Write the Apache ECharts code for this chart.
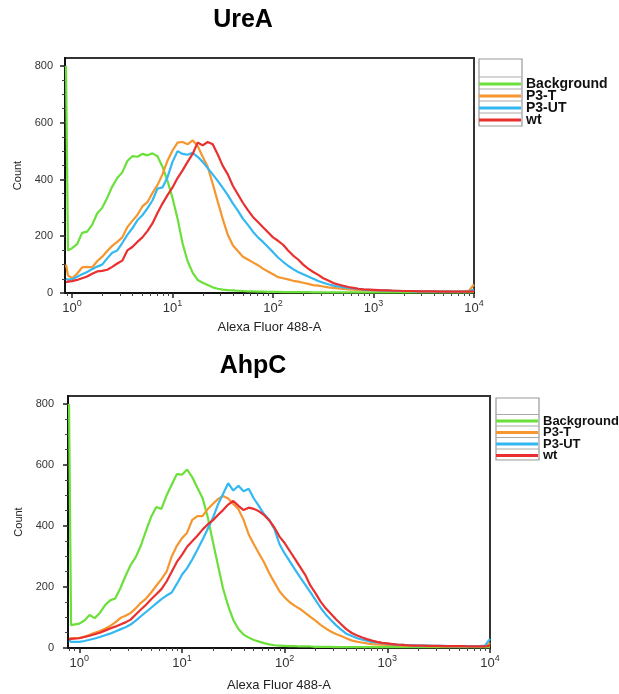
<!DOCTYPE html>
<html>
<head>
<meta charset="utf-8">
<script src="https://cdn.jsdelivr.net/npm/echarts@6/dist/echarts.min.js"></script>
<style>
html,body{margin:0;padding:0;background:#fff;}
#chart{width:619px;height:694px;}
</style>
</head>
<body>
<div id="chart"></div>
<script>
// ---- data (x = log10 of Alexa Fluor 488-A intensity, y = Count) ----
const GRID = [0,0.05,0.1,0.15,0.2,0.25,0.3,0.35,0.4,0.45,
  0.5,0.55,0.6,0.65,0.7,0.75,0.8,0.85,0.9,0.95,
  1,1.05,1.1,1.15,1.2,1.25,1.3,1.35,1.4,1.45,
  1.5,1.55,1.6,1.65,1.7,1.75,1.8,1.85,1.9,1.95,
  2,2.05,2.1,2.15,2.2,2.25,2.3,2.35,2.4,2.45,
  2.5,2.55,2.6,2.65,2.7,2.75,2.8,2.85,2.9,2.95,
  3,3.05,3.1,3.15,3.2,3.25,3.3,3.35,3.4,3.45,
  3.5,3.55,3.6,3.65,3.7,3.75,3.8,3.85,3.9,3.95,
  4];
const ureaLowBins = [-0.06, -0.04];
const ahpcLowBins = [-0.10, -0.08];

const seriesNames = ['Background', 'P3-T', 'P3-UT', 'wt'];
const seriesColors = ['#6be03a', '#f5962e', '#33b8f2', '#ea2f2f'];

const ureaBackground = [800,150,
158,172,212,216,240,280,300,335,375,405,
425,465,482,480,490,485,492,482,445,395,
335,262,175,112,72,46,36,28,20,15,
12,10,9,8,7,6,6,5,5,4,
4,4,3,3,3,3,3,3,2,2,
2,2,2,2,2,2,2,2,2,2,
2,2,2,2,2,2,2,2,2,2,
2,2,2,2,2,2,2,2,2,2,
3];
const ureaP3T = [100,62,
52,68,90,92,90,112,128,148,166,180,
196,232,254,275,305,320,352,380,418,466,
502,530,532,524,538,518,480,445,385,322,
260,205,168,148,128,118,108,98,86,76,
66,56,52,48,43,40,36,32,28,26,
23,20,18,16,14,13,12,11,10,10,
9,8,8,8,7,7,7,7,6,6,
6,6,6,6,6,6,5,5,5,8,
30];
const ureaP3UT = [50,47,
48,57,66,74,84,93,100,122,142,150,
176,205,228,256,274,298,326,368,372,408,
462,500,490,487,494,480,462,440,418,395,
370,345,316,290,262,240,216,196,180,162,
144,125,110,96,84,74,66,58,50,42,
36,31,26,23,20,18,16,14,12,11,
10,9,9,8,8,7,7,7,6,6,
6,6,5,5,5,5,5,5,5,6,
12];
const ureaWt = [38,40,
42,46,52,58,68,76,78,82,92,104,
114,150,162,180,196,218,245,282,315,345,
372,405,432,462,490,530,520,532,524,488,
448,418,378,348,318,292,268,250,232,214,
196,184,170,150,132,118,100,86,74,64,
52,44,35,30,25,21,18,15,13,12,
11,10,9,9,8,8,7,7,7,6,
6,6,6,5,5,5,5,5,5,5,
6];

const ahpcBackground = [800,75,
80,90,108,98,115,140,156,162,196,236,
272,298,336,385,430,462,456,500,535,570,
568,585,560,525,492,430,350,272,195,138,
92,62,44,34,26,21,16,12,9,8,
7,6,6,5,5,5,4,4,4,4,
3,3,3,3,3,3,3,3,3,3,
3,3,3,3,3,3,3,3,3,3,
3,3,3,3,3,3,3,3,3,3,
3];
const ahpcP3T = [32,32,
33,37,43,50,56,63,72,84,98,106,
115,130,148,162,182,204,226,250,300,335,
360,378,420,432,432,455,472,488,498,490,
472,455,420,372,340,310,280,245,215,186,
166,150,138,128,115,102,90,76,64,54,
46,39,32,25,21,18,15,13,12,11,
10,10,9,8,8,7,7,7,6,6,
6,6,5,5,5,5,5,5,5,6,
16];
const ahpcP3UT = [25,20,
20,23,27,31,36,42,47,54,61,68,
77,90,104,118,132,146,160,172,182,210,
240,262,290,322,355,390,425,470,505,540,
516,532,514,522,490,465,438,420,390,340,
310,284,258,232,208,183,158,132,110,92,
75,60,47,40,33,28,24,20,18,16,
14,12,10,10,9,9,8,8,8,7,
7,7,6,6,6,6,6,6,6,8,
30];
const ahpcWt = [28,30,
32,36,40,45,50,57,64,70,77,84,
93,110,126,142,160,176,193,218,250,282,
305,332,350,368,388,405,418,436,452,470,
482,466,452,460,456,448,436,418,395,365,
344,318,292,266,240,205,180,152,130,112,
94,78,62,50,42,35,29,24,20,17,
15,13,11,10,9,8,8,8,7,7,
7,6,6,6,6,6,5,5,5,5,
8];

const xMajorTicks = [0, 1, 2, 3, 4];
const yMajorTicks = [0, 200, 400, 600, 800];
const titles = ['UreA', 'AhpC'];
const xAxisName = 'Alexa Fluor 488-A';
const yAxisName = 'Count';

// ---- build ----
const FONT = 'Liberation Sans, Arial, Helvetica, sans-serif';
const ureaBins = ureaLowBins.concat(GRID);
const ahpcBins = ahpcLowBins.concat(GRID);

function minorX(min) {
  const out = [];
  for (let d = -1; d < 4; d++) for (let m = 2; m <= 9; m++) {
    const v = d + Math.log10(m);
    if (v > min && v < 4) out.push(v);
  }
  return out;
}
const yMinorTicks = [];
for (let v = 50; v <= 800; v += 50) yMinorTicks.push(v);

function pairs(bins, vals) { return bins.map((b, i) => [b, vals[i]]); }

const grids = [
  {left: 65, top: 58, width: 409, height: 235, min: -0.07, ymax: 828, nameGapX: 28, nameGapY: 36, labelMargin: 12},
  {left: 68, top: 396, width: 422, height: 252, min: -0.11, ymax: 826, nameGapX: 31, nameGapY: 38, labelMargin: 14}
];

const xAxes = [], yAxes = [];
grids.forEach((g, gi) => {
  xAxes.push({
    gridIndex: gi, type: 'value', min: g.min, max: 4, position: 'bottom',
    axisLine: {show: true, onZero: false, lineStyle: {color: '#111', width: 2}},
    axisTick: {show: true, customValues: xMajorTicks, length: 5, lineStyle: {color: '#222', width: 1.5}},
    axisLabel: {
      customValues: xMajorTicks, margin: 6,
      formatter: v => '{b|10}{s|' + Math.round(v) + '}',
      rich: {
        b: {fontSize: 13, color: '#333', fontFamily: FONT, verticalAlign: 'bottom'},
        s: {fontSize: 9, color: '#333', fontFamily: FONT, verticalAlign: 'bottom', padding: [0, 0, 7, 0]}
      }
    },
    splitLine: {show: false},
    name: xAxisName, nameLocation: 'middle', nameGap: g.nameGapX,
    nameTextStyle: {fontSize: 13, color: '#222', fontFamily: FONT}
  });
  xAxes.push({
    gridIndex: gi, type: 'value', min: g.min, max: 4, position: 'bottom',
    axisLine: {show: false, onZero: false},
    axisTick: {show: true, customValues: minorX(g.min), length: 3, lineStyle: {color: '#444', width: 1}},
    axisLabel: {show: false}, splitLine: {show: false}
  });
  yAxes.push({
    gridIndex: gi, type: 'value', min: 0, max: g.ymax, position: 'left',
    axisLine: {show: true, onZero: false, lineStyle: {color: '#111', width: 2}},
    axisTick: {show: true, customValues: yMajorTicks, length: 5, lineStyle: {color: '#222', width: 1.5}},
    axisLabel: {customValues: yMajorTicks, fontSize: 11, color: '#333', fontFamily: FONT, margin: g.labelMargin},
    splitLine: {show: false},
    name: yAxisName, nameLocation: 'middle', nameGap: g.nameGapY, nameRotate: 90,
    nameTextStyle: {fontSize: 11, color: '#222', fontFamily: FONT}
  });
  yAxes.push({
    gridIndex: gi, type: 'value', min: 0, max: g.ymax, position: 'left',
    axisLine: {show: false, onZero: false},
    axisTick: {show: true, customValues: yMinorTicks, length: 3, lineStyle: {color: '#444', width: 1}},
    axisLabel: {show: false}, splitLine: {show: false}
  });
});

const ureaSets = [ureaBackground, ureaP3T, ureaP3UT, ureaWt];
const ahpcSets = [ahpcBackground, ahpcP3T, ahpcP3UT, ahpcWt];
const series = [];
[[ureaSets, ureaBins, 0], [ahpcSets, ahpcBins, 1]].forEach(([sets, bins, gi]) => {
  sets.forEach((vals, si) => {
    series.push({
      type: 'line', name: seriesNames[si], xAxisIndex: gi * 2, yAxisIndex: gi * 2,
      data: pairs(bins, vals), symbol: 'none', showSymbol: false, smooth: false,
      clip: true, animation: false,
      itemStyle: {color: seriesColors[si]},
      lineStyle: {color: seriesColors[si], width: 2.2}
    });
  });
});

function legendBox(x, y, w, h, rows) {
  const els = [{type: 'rect', shape: {x: x, y: y, width: w, height: h}, style: {fill: 'none', stroke: '#999', lineWidth: 1.2}}];
  rows.forEach(ry => els.push({type: 'line', shape: {x1: x, y1: ry, x2: x + w, y2: ry}, style: {stroke: '#aaa', lineWidth: 1}}));
  return els;
}

const option = {
  backgroundColor: '#fff',
  animation: false,
  grid: grids.map(g => ({left: g.left, top: g.top, width: g.width, height: g.height, show: true, borderColor: '#333', borderWidth: 2, backgroundColor: 'transparent'})),
  xAxis: xAxes,
  yAxis: yAxes,
  legend: [
    {data: seriesNames, orient: 'vertical', left: 479, top: 77, padding: 0, icon: 'rect', itemWidth: 42, itemHeight: 3, itemGap: -2, selectedMode: false,
     textStyle: {fontSize: 14, fontWeight: 'bold', color: '#111', fontFamily: FONT}},
    {data: seriesNames, orient: 'vertical', left: 496, top: 414.5, padding: 0, icon: 'rect', itemWidth: 42, itemHeight: 3, itemGap: -1.5, selectedMode: false,
     textStyle: {fontSize: 13, fontWeight: 'bold', color: '#111', fontFamily: FONT}}
  ],
  graphic: [
    {type: 'text', x: 243, y: 20, style: {text: titles[0], font: 'bold 25px ' + FONT, fill: '#000', textAlign: 'center', textVerticalAlign: 'middle'}},
    {type: 'text', x: 253, y: 366, style: {text: titles[1], font: 'bold 25px ' + FONT, fill: '#000', textAlign: 'center', textVerticalAlign: 'middle'}}
  ].concat(legendBox(479, 59, 43, 67, [77, 89, 101, 113]))
   .concat(legendBox(496, 398, 43, 62, [414.5, 426, 437.5, 449]))
   .map(e => Object.assign(e, {z: 1})),
  series: series
};

const chart = echarts.init(document.getElementById('chart'), null, {renderer: 'canvas'});
chart.setOption(option);
</script>
</body>
</html>
